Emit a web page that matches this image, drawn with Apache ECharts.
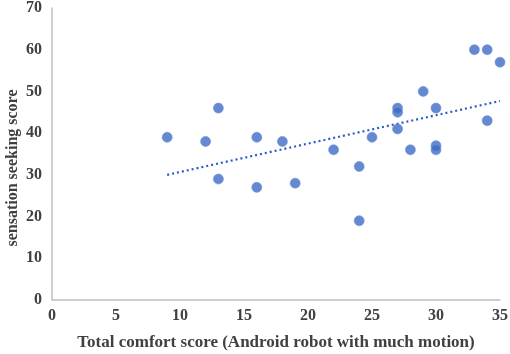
<!DOCTYPE html>
<html>
<head>
<meta charset="utf-8">
<script src="https://cdn.jsdelivr.net/npm/echarts@6/dist/echarts.min.js"></script>
<style>
  html, body { margin: 0; padding: 0; background: #fff; }
  #chart { width: 510px; height: 354px; }
</style>
</head>
<body>
<div id="chart"></div>
<script>
// comfort score (x) vs sensation seeking score (y)
var comfortScores = [9, 12, 13, 13, 16, 16, 18, 19, 22, 24, 24, 25, 27, 27, 27, 28, 29, 30, 30, 30, 33, 34, 34, 35];
var seekingScores = [39, 38, 46, 29, 39, 27, 38, 28, 36, 32, 19, 39, 46, 45, 41, 36, 50, 46, 37, 36, 60, 60, 43, 57];
// dotted trend line ends
var trendX = [9, 35];
var trendY = [30, 47.7];

var points = [];
for (var i = 0; i < comfortScores.length; i++) {
  points.push([comfortScores[i], seekingScores[i]]);
}
var trend = [];
for (var j = 0; j < trendX.length; j++) {
  trend.push([trendX[j], trendY[j]]);
}

var font = 'Liberation Serif';
var chart = echarts.init(document.getElementById('chart'));
chart.setOption({
  animation: false,
  backgroundColor: '#fff',
  grid: { left: 52, right: 10, top: 8, bottom: 54, outerBoundsMode: 'none' },
  // y title sits a bit below the plot middle, like the original
  graphic: [{
    type: 'text',
    x: 13, y: 168,
    rotation: Math.PI / 2,
    style: {
      text: 'sensation seeking score',
      fontFamily: font, fontWeight: 'bold', fontSize: 16, fill: '#404040',
      align: 'center', verticalAlign: 'middle'
    }
  }],
  xAxis: {
    type: 'value', min: 0, max: 35, interval: 5,
    name: 'Total comfort score (Android robot with much motion)',
    nameLocation: 'middle', nameGap: 34,
    nameTextStyle: { fontFamily: font, fontWeight: 'bold', fontSize: 17, color: '#404040' },
    axisLine: { lineStyle: { color: '#bfbfbf', width: 1.5 } },
    axisTick: { show: false },
    splitLine: { show: false },
    axisLabel: { fontFamily: font, fontWeight: 'bold', fontSize: 16, color: '#404040', margin: 8 }
  },
  yAxis: {
    type: 'value', min: 0, max: 70, interval: 10,
    axisLine: { show: true, lineStyle: { color: '#bfbfbf', width: 1.5 } },
    axisTick: { show: false },
    splitLine: { show: false },
    axisLabel: { fontFamily: font, fontWeight: 'bold', fontSize: 16, color: '#404040', margin: 10 }
  },
  series: [
    {
      type: 'line',
      data: trend,
      showSymbol: false,
      symbol: 'none',
      lineStyle: { color: '#2a5cc8', width: 2.2, type: [2, 3] },
      z: 1
    },
    {
      type: 'scatter',
      data: points,
      symbolSize: 10,
      itemStyle: { color: '#3d6cc5', borderColor: '#6f93d6', borderWidth: 0.8 },
      z: 2
    }
  ]
});
</script>
</body>
</html>
